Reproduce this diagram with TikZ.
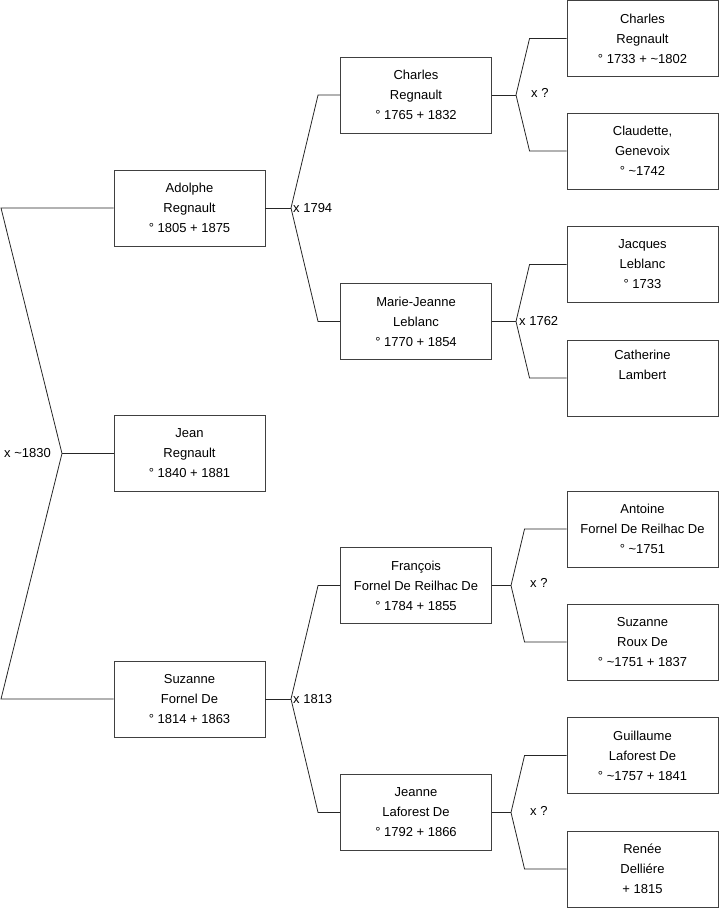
\documentclass[tikz,border=0pt]{standalone}
\usepackage{fontspec}
\setmainfont{Liberation Sans}
\usetikzlibrary{positioning,calc}

\begin{document}
\begin{tikzpicture}[
  x=1pt, y=-1pt,
  person/.style={draw=black!75, line width=0.9pt, align=center, minimum width=151pt, minimum height=76pt, inner sep=0pt, font=\fontsize{13}{20}\selectfont},
  wed/.style={inner sep=0pt, font=\fontsize{13}{16}\selectfont},
  link/.style={draw=black!85, line width=0.8pt}
]
\useasboundingbox (0,0) rectangle (719,908);

% generation 1
\node[person] (adolphe) at (189.5,208) {Adolphe\\Regnault\\° 1805 + 1875};
\node[person] (jean) at (189.5,453.5) {Jean\\Regnault\\° 1840 + 1881};
\node[person] (suzanne) at (189.5,699) {Suzanne\\Fornel De\\° 1814 + 1863};

% generation 2
\node[person] (charles) at (416,95) {Charles\\Regnault\\° 1765 + 1832};
\node[person] (mariejeanne) at (416,321.5) {Marie-Jeanne\\Leblanc\\° 1770 + 1854};
\node[person] (francois) at (416,585.5) {François\\Fornel De Reilhac De\\° 1784 + 1855};
\node[person] (jeanne) at (416,812.5) {Jeanne\\Laforest De\\° 1792 + 1866};

% generation 3
\node[person] (charlesb) at (642.5,38.5) {Charles\\Regnault\\° 1733 + \textasciitilde1802};
\node[person] (claudette) at (642.5,151) {Claudette,\\Genevoix\\° \textasciitilde1742};
\node[person] (jacques) at (642.5,264.5) {Jacques\\Leblanc\\° 1733};
\node[person] (catherine) at (642.5,378) {Catherine\\Lambert\\\strut};
\node[person] (antoine) at (642.5,529) {Antoine\\Fornel De Reilhac De\\° \textasciitilde1751};
\node[person] (suzanneb) at (642.5,642) {Suzanne\\Roux De\\° \textasciitilde1751 + 1837};
\node[person] (guillaume) at (642.5,755.5) {Guillaume\\Laforest De\\° \textasciitilde1757 + 1841};
\node[person] (renee) at (642.5,869) {Renée\\Delliére\\+ 1815};

% marriage points
\coordinate (m0) at (62,453.5);
\coordinate (m1) at (291,208);
\coordinate (m2) at (291,699);
\coordinate (m3) at (516,95);
\coordinate (m4) at (516,321.5);
\coordinate (m5) at (511,585.5);
\coordinate (m6) at (511,812.5);

% root
\draw[link] (adolphe.west) -- (1,208) -- (m0) -- (1,699) -- (suzanne.west);
\draw[link] (m0) -- (jean.west);
\node[wed, anchor=east] (w0) at (51,453.5) {x \textasciitilde1830};

% parents
\draw[link] (adolphe.east) -- (m1);
\draw[link] (charles.west) -- ++(-22,0) -- (m1) -- ($(mariejeanne.west)+(-22,0)$) -- (mariejeanne.west);
\node[wed, anchor=west] (w1) at (293,208) {x 1794};

\draw[link] (suzanne.east) -- (m2);
\draw[link] (francois.west) -- ++(-22,0) -- (m2) -- ($(jeanne.west)+(-22,0)$) -- (jeanne.west);
\node[wed, anchor=west] (w2) at (293,699) {x 1813};

% grandparents
\draw[link] (charles.east) -- (m3);
\draw[link] (charlesb.west) -- ++(-37,0) -- (m3) -- ($(claudette.west)+(-37,0)$) -- (claudette.west);
\node[wed, anchor=west] (w3) at (531,93) {x ?};

\draw[link] (mariejeanne.east) -- (m4);
\draw[link] (jacques.west) -- ++(-37,0) -- (m4) -- ($(catherine.west)+(-37,0)$) -- (catherine.west);
\node[wed, anchor=west] (w4) at (519,321.5) {x 1762};

\draw[link] (francois.east) -- (m5);
\draw[link] (antoine.west) -- ++(-42,0) -- (m5) -- ($(suzanneb.west)+(-42,0)$) -- (suzanneb.west);
\node[wed, anchor=west] (w5) at (530,583) {x ?};

\draw[link] (jeanne.east) -- (m6);
\draw[link] (guillaume.west) -- ++(-42,0) -- (m6) -- ($(renee.west)+(-42,0)$) -- (renee.west);
\node[wed, anchor=west] (w6) at (530,811) {x ?};

\end{tikzpicture}
\end{document}
